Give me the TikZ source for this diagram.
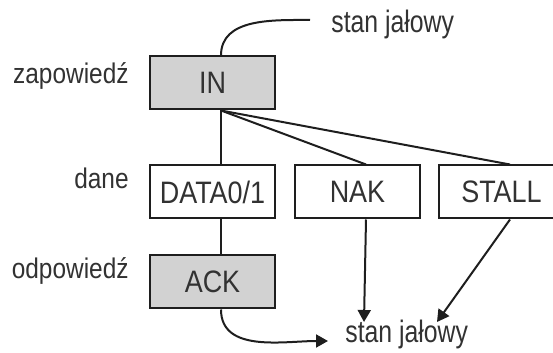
\documentclass[tikz,border=0pt]{standalone}
\usepackage{fontspec}
\setmainfont{Liberation Sans}
\newfontfamily\pktfont{Liberation Sans}[FakeStretch=0.87]
\newfontfamily\phasefont{Liberation Sans}[FakeStretch=0.86]
\newfontfamily\idlefont{Liberation Sans}[FakeStretch=0.80]
\usepackage{tikz}
\usetikzlibrary{arrows.meta,positioning,calc}
\usepackage{xcolor}
\definecolor{ink}{RGB}{30,30,30}
\definecolor{txt}{RGB}{50,50,50}
\definecolor{dots}{RGB}{210,210,210}
\tikzset{
  pkt/.style={draw=ink,line width=1pt,minimum width=62.5pt,minimum height=26.5pt,inner sep=0pt,
    text=txt,font=\pktfont\fontsize{15.5}{18}\selectfont},
  shaded/.style={pkt,fill=dots},
  lbl/.style={inner sep=0pt,text=txt,font=\idlefont\fontsize{15.5}{18}\selectfont},
  phase/.style={inner sep=0pt,text=txt,font=\phasefont\fontsize{14.2}{17}\selectfont},
  wire/.style={draw=ink,line width=1pt},
  arr/.style={wire,-{Triangle[length=6pt,width=6.5pt]}},
}

\begin{document}
\begin{tikzpicture}[x=0.5pt,y=-0.5pt]
  \useasboundingbox (0,0) rectangle (553,353);
  \clip (0,0) rectangle (553,353);
  % packets
  \node[shaded] (in) at (212.5,83) {IN};
  \node[pkt,below=27pt of in] (data) {DATA0/1};
  \node[pkt,right=9pt of data] (nak) {NAK};
  \node[pkt,right=8.5pt of nak] (stall) {STALL};
  \node[shaded,below=17.5pt of data] (ack) {ACK};
  % phases
  \node[phase,anchor=base east] (tok) at (129,84) {zapowiedź};
  \node[phase,anchor=base east] (dat) at (129,189) {dane};
  \node[phase,anchor=base east] (hsk) at (129,279) {odpowiedź};
  % idle states
  \node[lbl,anchor=base west] (idletop) at (331,33) {stan jałowy};
  \node[lbl,anchor=base west] (idlebot) at (345,343) {stan jałowy};
  \coordinate (topend) at (310,20);
  \coordinate (botend) at (328,341);
  \coordinate (nakend) at (364,322);
  \coordinate (stallend) at (437,322);
  \draw[wire] ($(in.north)+(8.5,0)$) to[out=90,in=180] (topend);
  \draw[wire] ($(in.south)+(8.5,0)$) -- ($(data.north)+(8.5,0)$);
  \draw[wire] ($(in.south)+(8.5,0)$) -- ($(nak.north)+(8.5,0)$);
  \draw[wire] ($(in.south)+(8.5,0)$) -- ($(stall.north)+(8.5,0)$);
  \draw[wire] ($(data.south)+(8.5,0)$) -- ($(ack.north)+(8.5,0)$);
  \draw[arr] ($(ack.south)+(8.5,0)$) to[out=-90,in=180] (botend);
  \draw[arr] ($(nak.south)+(8.5,0)$) -- (nakend);
  \draw[arr] ($(stall.south)+(8.5,0)$) -- (stallend);
\end{tikzpicture}
\end{document}
